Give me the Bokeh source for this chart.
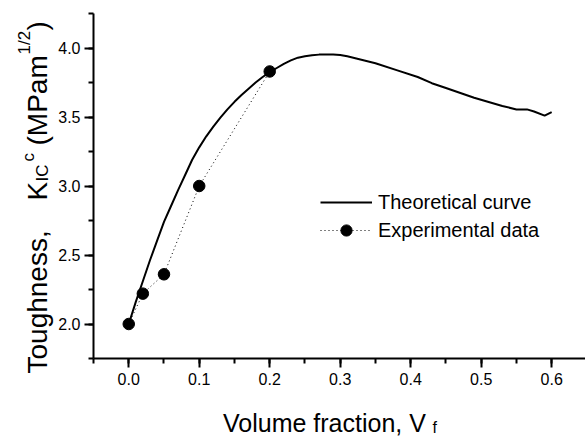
import math
from bokeh.plotting import figure
from bokeh.models import (Range1d, SingleIntervalTicker, NumeralTickFormatter,
                          Label, Legend, LegendItem)
from bokeh.embed import file_html
from bokeh.resources import INLINE

# ---- data ----
vf_theory = [0.0, 0.01, 0.02, 0.03, 0.04, 0.05, 0.06, 0.07, 0.08, 0.09, 0.10,
             0.11, 0.12, 0.13, 0.14, 0.15, 0.16, 0.17, 0.18, 0.19, 0.20, 0.21,
             0.22, 0.23, 0.24, 0.25, 0.26, 0.27, 0.28, 0.29, 0.30, 0.31, 0.35,
             0.38, 0.41, 0.43, 0.45, 0.49, 0.53, 0.55, 0.565, 0.575, 0.59, 0.60]
k_theory = [2.0, 2.16, 2.31, 2.46, 2.60, 2.74, 2.855, 2.97, 3.08, 3.19, 3.28,
            3.36, 3.43, 3.495, 3.555, 3.61, 3.66, 3.705, 3.75, 3.79, 3.825, 3.855,
            3.885, 3.91, 3.93, 3.94, 3.948, 3.952, 3.953, 3.952, 3.95, 3.94, 3.89,
            3.84, 3.79, 3.745, 3.71, 3.64, 3.58, 3.555, 3.555, 3.54, 3.51, 3.535]

vf_exp = [0.0, 0.02, 0.05, 0.10, 0.20]
k_exp = [2.0, 2.22, 2.36, 3.0, 3.83]

series_names = ["Theoretical curve", "Experimental data"]
x_title = "Volume fraction, V"
x_title_sub = "f"
y_title_parts = ["Toughness,", "K", "IC", "c", "(MPam", "1/2", ")"]

FONT = "Liberation Sans"

W, H = 585, 437
# axis box in page pixels
AX_L, AX_T, AX_B, AX_R = 93, 13, 358, 585
XA0, XA1 = -0.05, 0.648      # axis extent (data)
YA0, YA1 = 1.75, 4.25
xs = (AX_R - AX_L) / (XA1 - XA0)
ys = (AX_B - AX_T) / (YA1 - YA0)
# frame covers the whole canvas; axes are pinned at the axis box edges
X0, X1 = XA0 - AX_L / xs, XA1 + (W - AX_R) / xs
Y0, Y1 = YA0 - (H - AX_B) / ys, YA1 + AX_T / ys

p = figure(width=W, height=H, output_backend="svg", toolbar_location=None,
           x_range=Range1d(X0, X1), y_range=Range1d(Y0, Y1),
           min_border_left=0, min_border_right=0, min_border_top=0,
           min_border_bottom=0)
p.title.visible = False
p.outline_line_color = None
p.xgrid.visible = False
p.ygrid.visible = False
p.background_fill_color = "white"
p.border_fill_color = "white"

r_th = p.line(vf_theory, k_theory, line_color="black", line_width=2)
r_ex_line = p.line(vf_exp, k_exp, line_color="black", line_width=1, line_dash="1 3")
r_ex_pts = p.scatter(vf_exp, k_exp, size=11.5, fill_color="black", line_color="black")

for ax in (p.xaxis[0], p.yaxis[0]):
    ax.axis_line_width = 2
    ax.major_tick_line_width = 2
    ax.minor_tick_line_width = 2
    ax.major_tick_in = 0
    ax.minor_tick_in = 0
    ax.major_tick_out = 9
    ax.minor_tick_out = 5
    ax.major_label_text_font = FONT
    ax.major_label_text_font_size = "16px"
    ax.major_label_text_color = "black"
    ax.formatter = NumeralTickFormatter(format="0.0")

p.xaxis[0].ticker = SingleIntervalTicker(interval=0.1, num_minor_ticks=2)
p.yaxis[0].ticker = SingleIntervalTicker(interval=0.5, num_minor_ticks=2)
p.xaxis[0].fixed_location = YA0
p.yaxis[0].fixed_location = XA0
p.xaxis[0].bounds = (XA0, XA1)
p.yaxis[0].bounds = (YA0, YA1)
p.xaxis[0].major_label_standoff = 5
p.yaxis[0].major_label_standoff = 4

legend = Legend(items=[LegendItem(label=series_names[0], renderers=[r_th]),
                       LegendItem(label=series_names[1], renderers=[r_ex_line, r_ex_pts])],
                location=(320, H - 244), glyph_width=52, glyph_height=28,
                label_height=28, label_standoff=6, spacing=0, padding=0, margin=0,
                border_line_color=None, background_fill_alpha=0,
                label_text_font=FONT, label_text_font_size="20px",
                label_text_color="black")
p.add_layout(legend, "center")

rot = math.pi / 2
# (text, page x of baseline, page y of text start, size)
y_pieces = [
    (y_title_parts[0], 36.5, 373, "28px"),
    (y_title_parts[1], 36.5, 200, "28px"),
    (y_title_parts[2], 42, 181, "17px"),
    (y_title_parts[3], 28, 161, "17px"),
    (y_title_parts[4], 36.5, 145, "28px"),
    (y_title_parts[5], 24, 54, "17px"),
    (y_title_parts[6], 36.5, 30, "28px"),
]
for txt, ix, iy, fs in y_pieces:
    p.add_layout(Label(x=ix, y=H - iy, x_units="screen", y_units="screen", text=txt,
                       angle=rot, text_align="left", text_baseline="alphabetic",
                       text_font=FONT, text_font_size=fs, text_color="black"))

p.add_layout(Label(x=222.5, y=H - 422, x_units="screen", y_units="screen", text=x_title,
                   text_align="left", text_baseline="alphabetic",
                   text_font=FONT, text_font_size="25px", text_color="black"))
p.add_layout(Label(x=432, y=H - 427, x_units="screen", y_units="screen", text=x_title_sub,
                   text_align="left", text_baseline="alphabetic",
                   text_font=FONT, text_font_size="16px", text_color="black"))

open("out.html", "w").write(file_html(p, INLINE))
